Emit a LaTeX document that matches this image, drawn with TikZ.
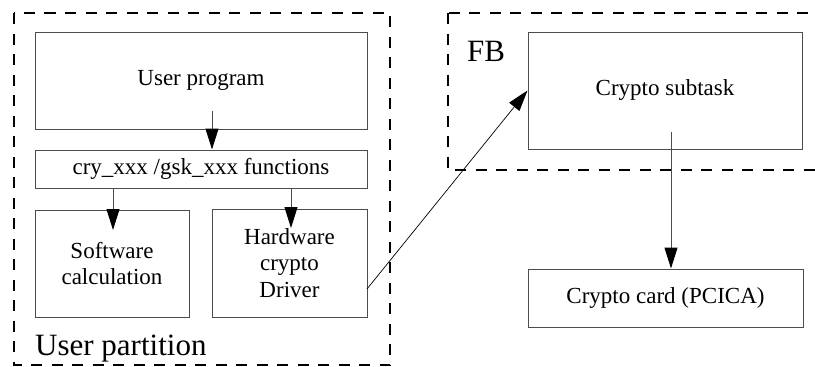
\documentclass[tikz,border=0pt]{standalone}
\usepackage{fontspec}
\setmainfont{Liberation Serif}
\usetikzlibrary{arrows.meta}
\begin{document}
\begin{tikzpicture}[x=1pt,y=-1pt,
  box/.style={draw=black!70, line width=1pt, rectangle, inner sep=0pt,
    align=center, font=\fontsize{23}{26.5}\selectfont},
  part/.style={draw=black, line width=2pt, dash pattern=on 11pt off 9.5pt},
  bigtext/.style={inner sep=0pt, anchor=base west, font=\fontsize{31}{34}\selectfont},
  arr/.style={draw=black!70, line width=1pt,
    -{Triangle[length=21pt,width=13pt,color=black,fill=black]}},
  thin arr/.style={draw=black, line width=0.7pt,
    -{Triangle[length=21pt,width=13pt,color=black,fill=black]}}]
\useasboundingbox (0,0) rectangle (815,367);
\begin{scope}
\clip (0,0) rectangle (815,367);
% partitions
\draw[part] (14,13) rectangle (390,365);
\draw[part] (448,13) rectangle (840,170);
\end{scope}
\node[bigtext] (lblup) at (35,355) {User partition};
\node[bigtext] (lblfb) at (467,61) {FB};
% user partition contents
\node[box, minimum width=332pt, minimum height=97pt] (up) at (201,80.5) {User program};
\node[box, minimum width=332pt, minimum height=38pt] (fn) at (201,169) {cry\_xxx /gsk\_xxx functions};
\node[box, minimum width=154pt, minimum height=107pt] (sw) at (112,263.5) {Software\\calculation};
\node[box, minimum width=155pt, minimum height=108pt] (hw) at (289.5,263) {Hardware\\crypto\\Driver};
% FB contents and card
\node[box, minimum width=274pt, minimum height=117pt] (cs) at (665,90.5) {Crypto subtask};
\node[box, minimum width=275pt, minimum height=58pt] (cc) at (665.5,298) {Crypto card (PCICA)};
% connectors
\coordinate (a1) at (212,111);
\draw[arr] (a1) -- (a1 |- fn.north);
\coordinate (a2) at (113,188);
\coordinate (a2t) at (113,230);
\draw[arr] (a2) -- (a2t);
\coordinate (a3) at (291,188);
\coordinate (a3t) at (291,228);
\draw[arr] (a3) -- (a3t);
\coordinate (a4) at (367,289);
\draw[thin arr] (a4) -- (cs.west);
\coordinate (a5) at (671,132);
\draw[arr] (a5) -- (a5 |- cc.north);
\end{tikzpicture}
\end{document}
